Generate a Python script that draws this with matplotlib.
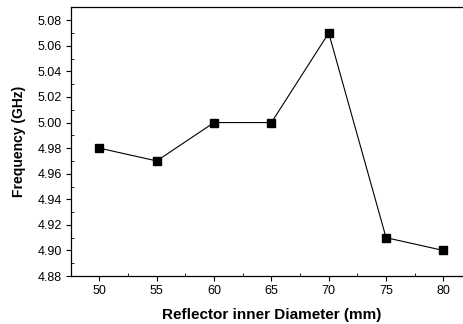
import matplotlib
matplotlib.use("Agg")
import matplotlib.pyplot as plt
from matplotlib.ticker import MultipleLocator

diameter = [50, 55, 60, 65, 70, 75, 80]
frequency = [4.98, 4.97, 5.00, 5.00, 5.07, 4.91, 4.90]

plt.rcParams['font.family'] = ['Liberation Sans', 'DejaVu Sans']

fig = plt.figure(figsize=(4.64, 3.24), dpi=100)
ax = fig.add_axes([0.1524, 0.148, 0.865, 0.829])
ax.plot(diameter, frequency, color='black', lw=0.8, marker='s', ms=5.5,
        markerfacecolor='black', markeredgecolor='black')

ax.set_xlim(47.5, 82.5)
ax.set_ylim(4.88, 5.09)
ax.xaxis.set_major_locator(MultipleLocator(5))
ax.xaxis.set_minor_locator(MultipleLocator(2.5))
ax.yaxis.set_major_locator(MultipleLocator(0.02))
ax.yaxis.set_minor_locator(MultipleLocator(0.01))
ax.yaxis.set_major_formatter(plt.FormatStrFormatter('%.2f'))
ax.tick_params(which='major', direction='out', length=3.5, width=0.8, labelsize=9, pad=3)
ax.tick_params(which='minor', direction='in', length=2, width=0.6)
for s in ax.spines.values():
    s.set_linewidth(0.9)
ax.spines['right'].set_visible(False)

ax.set_xlabel('Reflector inner Diameter (mm)', fontsize=11, fontweight='bold', labelpad=8)
ax.set_ylabel('Frequency (GHz)', fontsize=10, fontweight='bold', labelpad=8)

fig.savefig('out.png', dpi=100)
